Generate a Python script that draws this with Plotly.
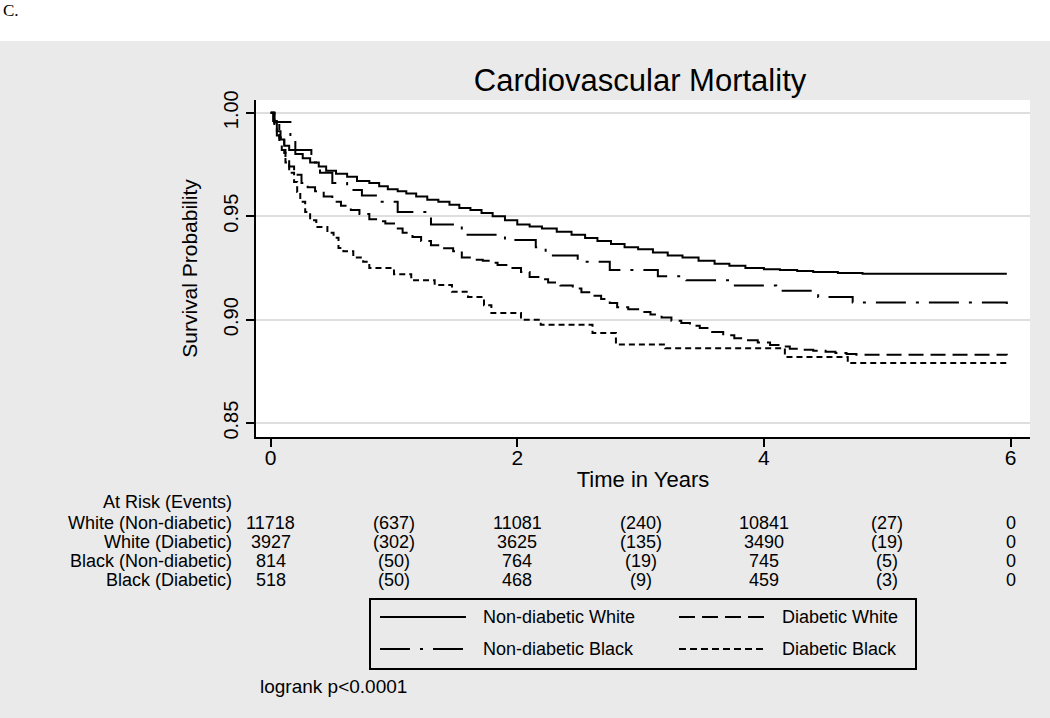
import plotly.graph_objects as go

# ---------------- data ----------------
series_names = ["Non-diabetic White", "Diabetic White", "Non-diabetic Black", "Diabetic Black"]

nw_t = [0, 0.02, 0.05, 0.08, 0.11, 0.15, 0.2, 0.26, 0.32, 0.39, 0.45, 0.53, 0.62, 0.7, 0.8, 0.88,
        0.95, 1.03, 1.1, 1.18, 1.27, 1.36, 1.45, 1.53, 1.62, 1.71, 1.8, 1.9, 2.0, 2.1, 2.2, 2.32,
        2.44, 2.55, 2.65, 2.76, 2.87, 2.98, 3.1, 3.22, 3.34, 3.47, 3.6, 3.72, 3.85, 4.0, 4.13,
        4.27, 4.4, 4.6, 4.8, 5.97]
nw_s = [1.0, 0.996, 0.991, 0.987, 0.984, 0.982, 0.980, 0.978, 0.976, 0.974, 0.972, 0.9705, 0.969,
        0.967, 0.966, 0.9645, 0.963, 0.962, 0.961, 0.9595, 0.958, 0.957, 0.9555, 0.954, 0.953,
        0.9515, 0.950, 0.948, 0.946, 0.945, 0.944, 0.9425, 0.941, 0.9395, 0.938, 0.9365, 0.935,
        0.934, 0.9325, 0.931, 0.930, 0.9285, 0.927, 0.926, 0.925, 0.9243, 0.924, 0.9235, 0.923,
        0.9226, 0.9222, 0.9222]

dw_t = [0, 0.03, 0.05, 0.07, 0.09, 0.12, 0.15, 0.19, 0.25, 0.30, 0.36, 0.43, 0.50, 0.57, 0.65,
        0.72, 0.8, 0.87, 0.93, 1.0, 1.07, 1.15, 1.22, 1.30, 1.38, 1.48, 1.55, 1.63, 1.72, 1.78,
        1.84, 1.93, 2.03, 2.10, 2.18, 2.25, 2.35, 2.45, 2.52, 2.6, 2.68, 2.75, 2.81, 2.9, 2.98,
        3.08, 3.17, 3.25, 3.33, 3.40, 3.48, 3.58, 3.67, 3.76, 3.86, 3.95, 4.05, 4.13, 4.21, 4.30,
        4.40, 4.50, 4.58, 4.67, 4.75, 5.97]
dw_s = [1.0, 0.993, 0.989, 0.985, 0.982, 0.978, 0.974, 0.970, 0.966, 0.964, 0.962, 0.9595, 0.957,
        0.955, 0.953, 0.951, 0.9485, 0.9475, 0.9465, 0.944, 0.942, 0.940, 0.938, 0.936, 0.9345,
        0.933, 0.930, 0.929, 0.9285, 0.9275, 0.9264, 0.925, 0.923, 0.9206, 0.9195, 0.918, 0.9165,
        0.915, 0.9133, 0.9115, 0.910, 0.908, 0.906, 0.905, 0.9037, 0.9025, 0.901, 0.8995, 0.8984,
        0.897, 0.896, 0.894, 0.8925, 0.891, 0.890, 0.889, 0.8878, 0.887, 0.886, 0.8855, 0.885,
        0.8845, 0.8839, 0.8834, 0.8830, 0.8828]

nb_t = [0, 0.03, 0.16, 0.20, 0.33, 0.40, 0.50, 0.62, 0.74, 0.88, 1.03, 1.30, 1.55, 1.90, 2.15,
        2.23, 2.49, 2.75, 3.14, 3.37, 3.74, 4.10, 4.44, 4.72, 5.97]
nb_s = [1.0, 0.9955, 0.988, 0.982, 0.976, 0.971, 0.966, 0.9627, 0.960, 0.957, 0.952, 0.946,
        0.941, 0.9385, 0.935, 0.931, 0.928, 0.924, 0.921, 0.919, 0.9165, 0.914, 0.911, 0.9083,
        0.9076]

db_t = [0, 0.03, 0.07, 0.11, 0.12, 0.15, 0.19, 0.215, 0.24, 0.28, 0.32, 0.37, 0.46, 0.51, 0.55,
        0.59, 0.67, 0.75, 0.80, 1.00, 1.14, 1.33, 1.47, 1.60, 1.73, 1.79, 2.03, 2.19, 2.61, 2.80,
        3.20, 4.17, 4.68, 5.97]
db_s = [1.0, 0.994, 0.988, 0.9805, 0.976, 0.971, 0.9665, 0.9617, 0.957, 0.952, 0.948, 0.9448,
        0.942, 0.9396, 0.9346, 0.933, 0.930, 0.928, 0.925, 0.922, 0.919, 0.9167, 0.9135, 0.911,
        0.907, 0.9032, 0.900, 0.8975, 0.8935, 0.888, 0.8862, 0.882, 0.879, 0.879]

x_ticks = [0, 2, 4, 6]
y_ticks = [0.85, 0.90, 0.95, 1.00]
y_tick_labels = ["0.85", "0.90", "0.95", "1.00"]

risk_header = "At Risk (Events)"
risk_labels = ["White (Non-diabetic)", "White (Diabetic)", "Black (Non-diabetic)", "Black (Diabetic)"]
risk_cols_t = [0, 1, 2, 3, 4, 5, 6]
risk_rows = [
    ["11718", "(637)", "11081", "(240)", "10841", "(27)", "0"],
    ["3927", "(302)", "3625", "(135)", "3490", "(19)", "0"],
    ["814", "(50)", "764", "(19)", "745", "(5)", "0"],
    ["518", "(50)", "468", "(9)", "459", "(3)", "0"],
]

# ---------------- layout helpers ----------------
W, H = 1050, 718
L, R, T, B = 256, 20, 100, 281
PW, PH = W - L - R, H - T - B


def px_x(px):
    return (px - L) / PW


def px_y(py):
    return (H - B - py) / PH


FONT = "Liberation Sans, Arial, Helvetica, sans-serif"
GREY = "#eaeaea"

styles = {
    "Non-diabetic White": "solid",
    "Diabetic White": "15px,7px",
    "Non-diabetic Black": "30px,10px,3px,10px",
    "Diabetic Black": "6px,4px",
}
legend_styles = {
    "Non-diabetic White": "solid",
    "Diabetic White": "16px,7px",
    "Non-diabetic Black": "30px,10px,3px,10px",
    "Diabetic Black": "7px,4px",
}

fig = go.Figure()
for name, t, s in [("Non-diabetic White", nw_t, nw_s), ("Diabetic White", dw_t, dw_s),
                   ("Non-diabetic Black", nb_t, nb_s), ("Diabetic Black", db_t, db_s)]:
    fig.add_trace(go.Scatter(x=t, y=s, mode="lines", name=name, line_shape="hv",
                             line=dict(color="black", width=2, dash=styles[name]),
                             showlegend=False))

annotations = []
shapes = []

# white strip at the very top
shapes.append(dict(type="rect", xref="paper", yref="paper", x0=px_x(-20), x1=px_x(W + 20),
                   y0=px_y(41), y1=px_y(-20), fillcolor="white", line=dict(width=0), layer="below"))

annotations.append(dict(text="C.", xref="paper", yref="paper", x=px_x(1), y=px_y(10),
                        xanchor="left", yanchor="middle", showarrow=False,
                        font=dict(family="Liberation Serif, Times New Roman, serif", size=17, color="black")))

# at-risk table
TF = 18
annotations.append(dict(text=risk_header, xref="paper", yref="paper", x=px_x(234), y=px_y(502),
                        xanchor="right", yanchor="middle", showarrow=False,
                        font=dict(family=FONT, size=TF, color="black")))
row_y = [523, 542, 561, 580]
for lab, vals, ry in zip(risk_labels, risk_rows, row_y):
    annotations.append(dict(text=lab, xref="paper", yref="paper", x=px_x(234), y=px_y(ry),
                            xanchor="right", yanchor="middle", showarrow=False,
                            font=dict(family=FONT, size=TF, color="black")))
    for ct, v in zip(risk_cols_t, vals):
        annotations.append(dict(text=v, xref="x", yref="paper", x=ct, y=px_y(ry),
                                xanchor="center", yanchor="middle", showarrow=False,
                                font=dict(family=FONT, size=TF, color="black")))

# legend box
shapes.append(dict(type="rect", xref="paper", yref="paper", x0=px_x(370), x1=px_x(916),
                   y0=px_y(669), y1=px_y(599), line=dict(color="black", width=2),
                   fillcolor="rgba(0,0,0,0)"))
leg_pos = [("Non-diabetic White", 380, 617), ("Diabetic White", 679, 617),
           ("Non-diabetic Black", 380, 649), ("Diabetic Black", 679, 649)]
for name, lx, ly in leg_pos:
    shapes.append(dict(type="line", xref="paper", yref="paper", x0=px_x(lx), x1=px_x(lx + 86),
                       y0=px_y(ly), y1=px_y(ly), line=dict(color="black", width=2,
                                                           dash=legend_styles[name])))
    annotations.append(dict(text=name, xref="paper", yref="paper", x=px_x(lx + 101), y=px_y(ly),
                            xanchor="left", yanchor="middle", showarrow=False,
                            font=dict(family=FONT, size=18, color="black")))

annotations.append(dict(text="logrank p&lt;0.0001", xref="paper", yref="paper", x=px_x(258), y=px_y(686),
                        xanchor="left", yanchor="middle", showarrow=False,
                        font=dict(family=FONT, size=19, color="black")))

fig.update_layout(
    width=W, height=H,
    margin=dict(l=L, r=R, t=T, b=B, pad=0),
    paper_bgcolor=GREY, plot_bgcolor="white",
    font=dict(family=FONT, color="black"),
    title=dict(text="Cardiovascular Mortality", x=640 / W, y=1 - 80 / H, xanchor="center",
               yanchor="middle", xref="container", yref="container",
               font=dict(family=FONT, size=31, color="black")),
    xaxis=dict(range=[-0.119, 6.158], tickvals=x_ticks, ticks="outside", ticklen=8, tickwidth=2,
               tickcolor="black", showline=True, linecolor="black", linewidth=2, showgrid=False,
               zeroline=False, tickfont=dict(size=21), ticklabelstandoff=-7,
               title=dict(text="Time in Years", font=dict(size=22), standoff=3)),
    yaxis=dict(range=[0.8433, 1.00614], tickvals=y_ticks, ticktext=y_tick_labels, tickangle=-90,
               ticks="outside", ticklen=8, tickwidth=2, tickcolor="black", showline=True,
               linecolor="black", linewidth=2, showgrid=True, gridcolor="#dedede", gridwidth=1.5,
               zeroline=False, tickfont=dict(size=20),
               title=dict(text="Survival Probability", font=dict(size=21), standoff=17)),
    shapes=shapes,
    annotations=annotations,
)

fig.write_html("out.html", config={"displayModeBar": False},
               post_script="document.body.style.margin='0';")
